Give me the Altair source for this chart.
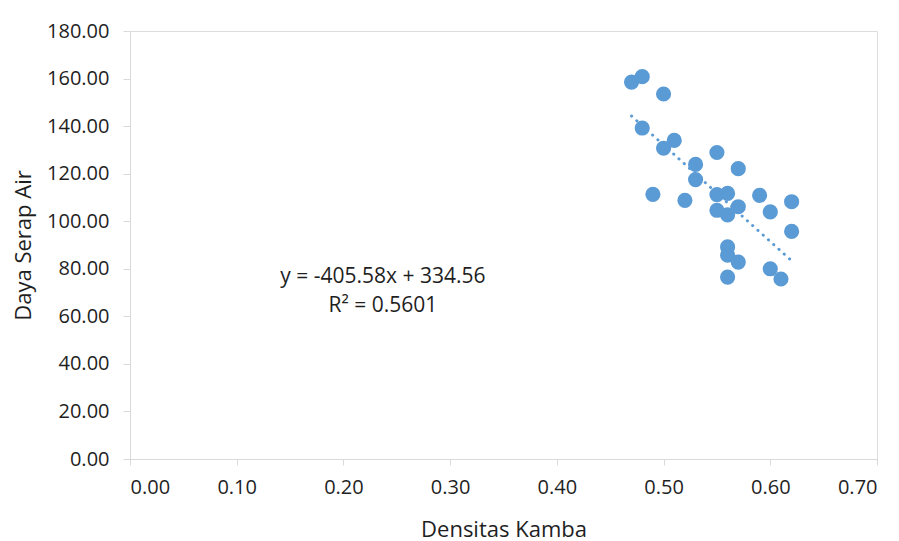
import altair as alt
import pandas as pd

densitas = [0.47, 0.48, 0.50, 0.48, 0.51, 0.50, 0.55, 0.53, 0.57, 0.53, 0.49, 0.52, 0.55, 0.56,
            0.59, 0.62, 0.57, 0.55, 0.56, 0.60, 0.62, 0.56, 0.56, 0.57, 0.60, 0.56, 0.61]
daya = [158.5, 160.8, 153.5, 139.2, 134.0, 130.7, 128.9, 123.9, 122.1, 117.5, 111.3, 108.8, 111.2, 111.7,
        110.9, 108.2, 106.1, 104.6, 102.7, 103.9, 95.7, 89.2, 85.7, 82.8, 80.0, 76.5, 75.7]

eq_lines = ["y = -405.58x + 334.56", "R² = 0.5601"]
eq_x = [0.237, 0.237]
eq_y = [76.5, 64.5]

df = pd.DataFrame({"x": densitas, "y": daya})
df_eq = pd.DataFrame({"t": eq_lines, "x": eq_x, "y": eq_y})

FONT = "Open Sans"
BLUE = "#5B9BD5"
TXT = "#1f1f1f"

xs = alt.Scale(domain=[0, 0.7], nice=False, zero=True)
ys = alt.Scale(domain=[0, 180], nice=False)

base = alt.Chart(df)

points = base.mark_circle(size=230, opacity=1, color=BLUE).encode(
    x=alt.X("x:Q", scale=xs, title="Densitas Kamba",
            axis=alt.Axis(values=[0, 0.1, 0.2, 0.3, 0.4, 0.5, 0.6, 0.7], format=".2f",
                          grid=False, domainColor="#D9D9D9", tickColor="#D9D9D9",
                          tickSize=6, labelPadding=12, titlePadding=22,
                          labelFontSize=20, titleFontSize=22, labelFont=FONT, titleFont=FONT,
                          labelColor=TXT, titleColor=TXT, titleFontWeight="normal")),
    y=alt.Y("y:Q", scale=ys, title="Daya Serap Air",
            axis=alt.Axis(values=list(range(0, 181, 20)), format=".2f",
                          grid=False, domainColor="#D9D9D9", tickColor="#D9D9D9",
                          tickSize=7, labelPadding=14, titlePadding=11,
                          labelFontSize=20, titleFontSize=22, labelFont=FONT, titleFont=FONT,
                          labelColor=TXT, titleColor=TXT, titleFontWeight="normal")),
)

trend = base.transform_regression("x", "y", method="linear", extent=[0.47, 0.62]).mark_line(
    color=BLUE, strokeWidth=3, strokeDash=[0.1, 7], strokeCap="round"
).encode(x=alt.X("x:Q", scale=xs), y=alt.Y("y:Q", scale=ys))

eq = alt.Chart(df_eq).mark_text(font=FONT, fontSize=21, color=TXT).encode(
    x=alt.X("x:Q", scale=xs), y=alt.Y("y:Q", scale=ys), text="t:N"
)

chart = alt.layer(trend, points, eq).properties(
    width=747, height=428,
    autosize=alt.AutoSizeParams(type="none"),
    padding={"left": 122, "top": 23, "right": 14, "bottom": 82},
).configure_view(stroke=None).configure(background="white")

chart.save("out.html", embed_options={"renderer": "svg", "actions": False})
